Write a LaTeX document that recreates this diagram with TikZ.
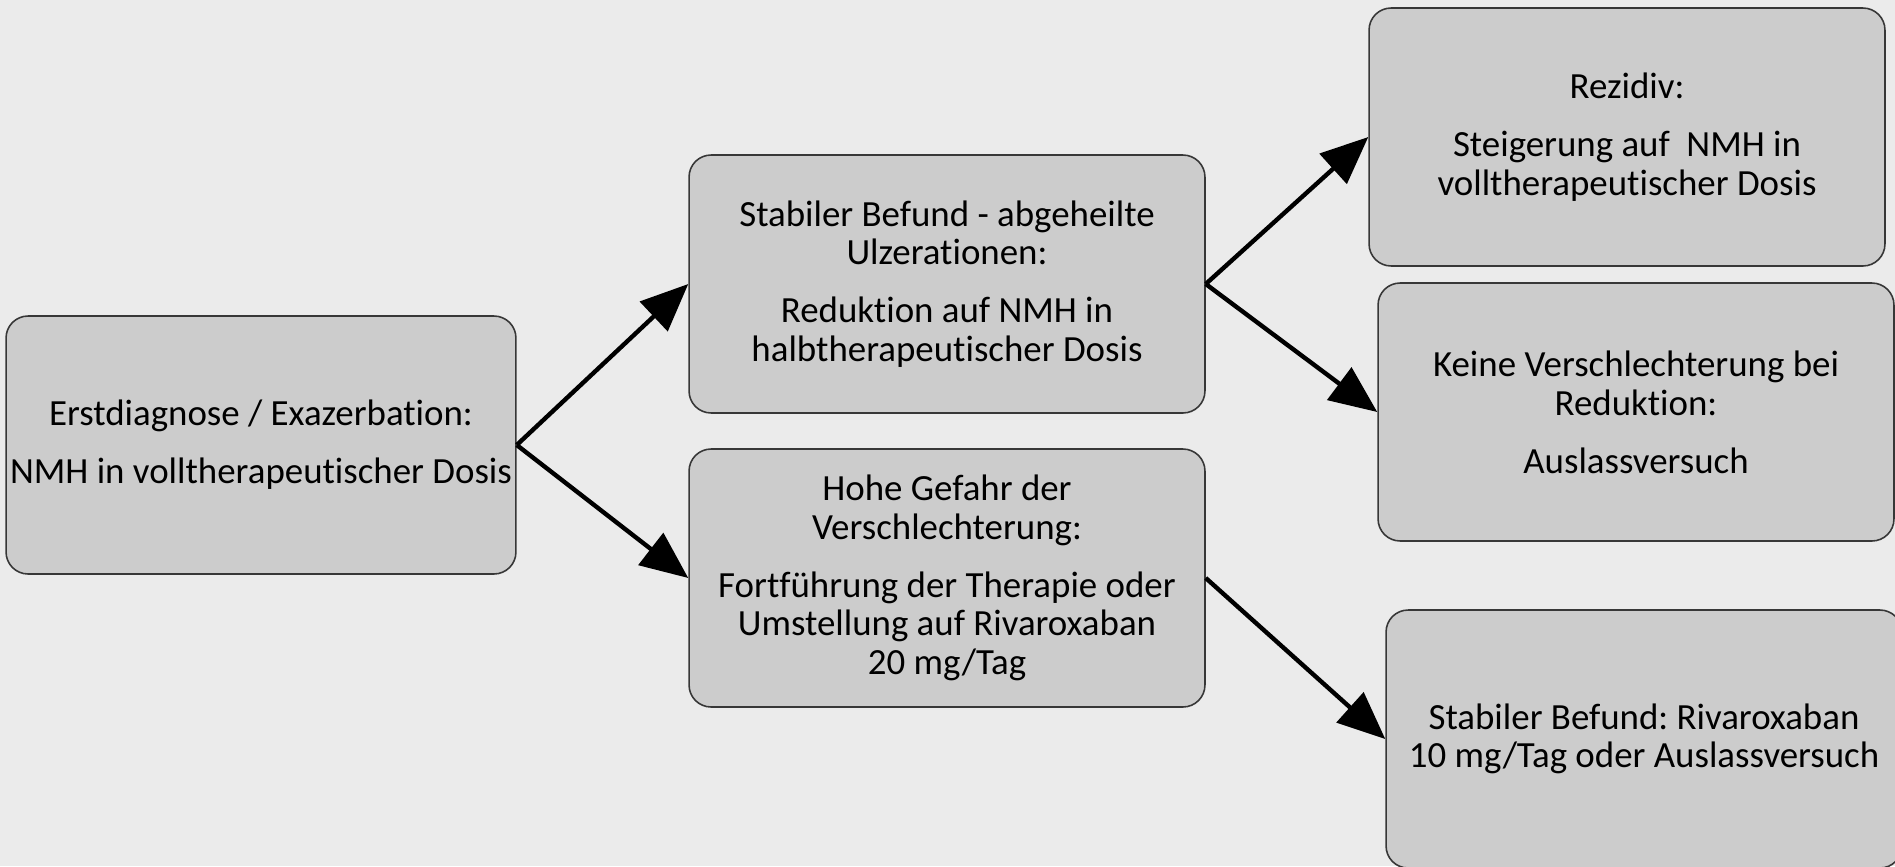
\documentclass[tikz,border=0pt]{standalone}
\usepackage{fontspec}
\setmainfont{Carlito}[Ligatures=NoCommon]
\frenchspacing
\usetikzlibrary{arrows.meta, positioning}
\definecolor{bggray}{RGB}{235, 235, 235}
\definecolor{boxgray}{RGB}{204, 204, 204}
\definecolor{framegray}{RGB}{55, 55, 55}

\begin{document}
\begin{tikzpicture}[x=0.02cm, y=-0.02cm,
    therapie/.style={draw=framegray, line width=0.9pt, fill=boxgray, rounded corners=0.44cm,
        minimum width=10.32cm, minimum height=5.16cm, inner sep=0pt, align=center,
        font=\fontsize{21}{22}\selectfont},
    pfeil/.style={line width=2.5pt, -{Triangle[length=0.95cm, width=0.8cm]}}]
    \useasboundingbox (0,0) rectangle (1895,866);
    \fill[bggray] (0,0) rectangle (1895,866);

    % Boxen
    \node[therapie, minimum width=10.2cm] (erst) at (261,445) {
        Erstdiagnose / Exazerbation:\\[11pt]
        NMH in volltherapeutischer Dosis
    };
    \node[therapie] (reduktion) at (947,284) {
        Stabiler Befund - abgeheilte\\ Ulzerationen:\\[11pt]
        Reduktion auf NMH in\\ halbtherapeutischer Dosis
    };
    \node[therapie] (gefahr) at (947,578) {
        Hohe Gefahr der\\ Verschlechterung:\\[11pt]
        Fortführung der Therapie oder\\ Umstellung auf Rivaroxaban\\ 20 mg/Tag
    };
    \node[therapie] (rezidiv) at (1627,137) {
        Rezidiv:\\[11pt]
        Steigerung auf~ NMH in\\ volltherapeutischer Dosis
    };
    \node[therapie] (auslass) at (1636,412) {
        Keine Verschlechterung bei\\ Reduktion:\\[11pt]
        Auslassversuch
    };
    \node[therapie] (rivaroxaban) at (1644,739) {
        Stabiler Befund: Rivaroxaban\\ 10 mg/Tag oder Auslassversuch
    };

    % Pfeile
    \draw[pfeil] (erst.east) -- (reduktion.west);
    \draw[pfeil] (erst.east) -- (gefahr.west);
    \draw[pfeil] (reduktion.east) -- (rezidiv.west);
    \draw[pfeil] (reduktion.east) -- (auslass.west);
    \draw[pfeil] (gefahr.east) -- (rivaroxaban.west);
\end{tikzpicture}
\end{document}
